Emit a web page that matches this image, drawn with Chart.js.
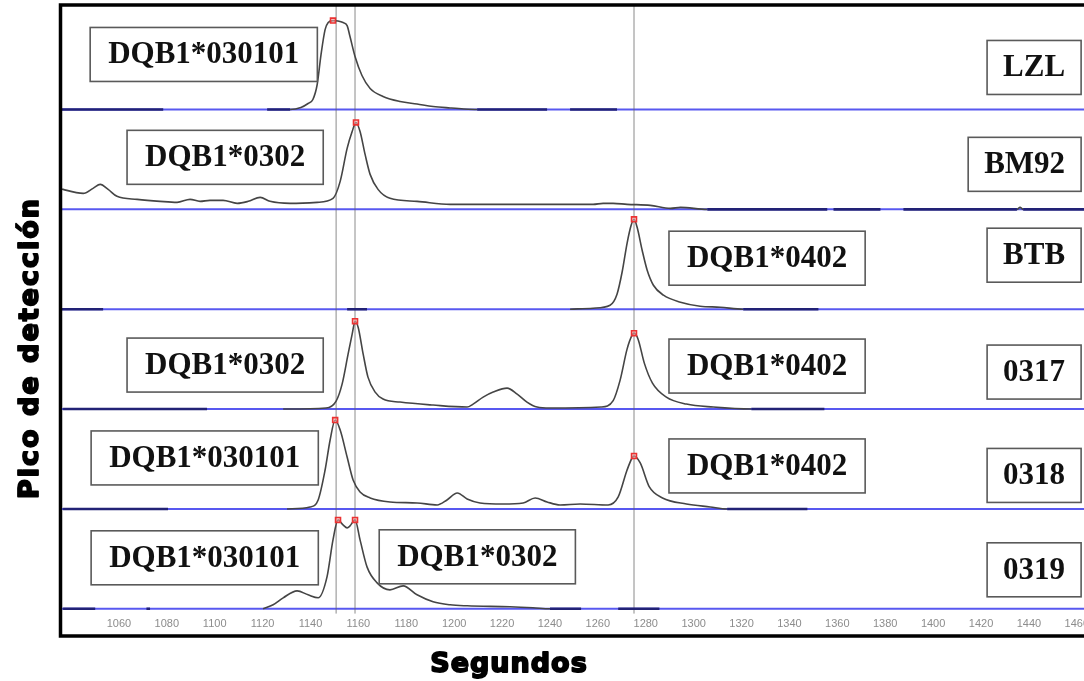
<!DOCTYPE html>
<html>
<head>
<meta charset="utf-8">
<title>Pico de detección</title>
<script src="https://cdn.jsdelivr.net/npm/chart.js@4.4.1/dist/chart.umd.min.js"></script>
<style>
  html, body { margin: 0; padding: 0; background: #fff; overflow: hidden; }
  #wrap { position: relative; width: 1084px; height: 681px; overflow: hidden; }
  #grafico { position: absolute; left: 0; top: 0; }
</style>
</head>
<body>
<div id="wrap"><canvas id="grafico" width="1110" height="681"></canvas></div>
<script>
// muestras, de arriba hacia abajo
const muestras = ['LZL', 'BM92', 'BTB', '0317', '0318', '0319'];
const segundosTicks = [1060, 1080, 1100, 1120, 1140, 1160, 1180, 1200, 1220, 1240, 1260,
  1280, 1300, 1320, 1340, 1360, 1380, 1400, 1420, 1440, 1460];
const lineasGuia = [1150.7, 1158.6, 1275.1];

// señal de cada muestra (% de la altura de la fila), null = sin trazo
const tLZL = [1035.4, 1078.5, 1100, 1121.9, 1131.5, 1136, 1139, 1141, 1142.8, 1144.4, 1146.1, 1147.4,
  1149.4, 1151.5, 1153.6, 1155.3, 1156.5, 1158.6, 1161.5, 1164.9, 1170.3, 1177.4, 1184.5, 1191.2,
  1198.3, 1204, 1209.6, 1238.8, 1243, 1248.4, 1268];
const sLZL = [0, 0, null, 0, 0, 2, 6, 10, 25, 55, 80, 87, 89, 88.5, 87, 84, 73, 53, 34, 21, 13, 8,
  5.5, 3, 1.5, 0.5, 0, 0, null, 0, 0];

const tBM92 = [1035.4, 1036.7, 1045.1, 1049.2, 1052.2, 1055.5, 1059.2, 1067.6, 1077.2, 1084.3, 1089.7,
  1093.9, 1098, 1103.5, 1109.4, 1114, 1119, 1123.1, 1131.5, 1142.8, 1149.4, 1152.4, 1155.3, 1157.4,
  1159, 1160.7, 1162.8, 1164.9, 1168.2, 1173.2, 1184.5, 1198.3, 1220, 1240, 1258, 1262.2, 1266.4,
  1272.2, 1281.9, 1290.3, 1294.5, 1305.7, 1355.8, 1357, 1358.4, 1378, 1382, 1387.6, 1435, 1436.3,
  1437.6, 1463];
const sBM92 = [21, 20, 16, 21, 25, 20, 13, 10, 8, 7, 10, 8, 9, 9, 6, 8, 12, 8, 6, 7, 11, 28, 61, 78,
  87, 78, 55, 35, 20, 11, 8, 5, 5, 5, 5, 6, 6, 5, 4, 1, 2, 0, 0, null, 0, 0, null, 0, 0, 2, 0, 0];

const tBTB = [1035.4, 1053.4, 1100, 1155.3, 1163.6, 1200, 1248.4, 1258, 1265.1, 1268, 1270.2, 1272.2,
  1273.9, 1275.1, 1276.4, 1278.5, 1280.6, 1283.2, 1287.4, 1294.5, 1302.7, 1311.1, 1320.7, 1352.1];
const sBTB = [0, 0, null, 0, 0, null, 0, 1, 4, 15, 38, 66, 84, 90, 82, 59, 39, 24, 14, 7, 3, 2, 0, 0];

const t0317 = [1036.7, 1096.8, 1110, 1128.6, 1146.5, 1150.7, 1153.2, 1155.7, 1157.4, 1158.6, 1159.9,
  1162.0, 1164.0, 1167.0, 1170.3, 1177.4, 1191.2, 1205.4, 1207.9, 1212.1, 1216.3, 1222.1, 1226.3,
  1230.4, 1234.6, 1240, 1261.3, 1266.4, 1269.3, 1272.2, 1274.3, 1275.1, 1276.8, 1279.4, 1282.8,
  1288.6, 1297, 1308.2, 1324.1, 1354.6];
const s0317 = [0, 0, null, 0, 1, 8, 25, 55, 75, 88, 82, 55, 32, 17, 10, 7, 4, 2, 5, 12, 17, 21, 15,
  7, 2, 1, 2, 8.5, 29, 60, 74, 76, 70, 46, 26, 12, 5, 2, 0, 0];

const t0318 = [1036.7, 1080.5, 1105, 1130.2, 1139.8, 1143.2, 1146.1, 1148.2, 1150.3, 1152.4, 1155.3,
  1157.8, 1160.7, 1164.9, 1173.2, 1184.5, 1192.9, 1197, 1201.3, 1205.4, 1210.8, 1220.4, 1228.8,
  1233.8, 1238.8, 1244.2, 1252.6, 1264.3, 1268.5, 1272.2, 1274.3, 1275.1, 1277.7, 1281.5, 1287,
  1297, 1306.9, 1314, 1347.5];
const s0318 = [0, 0, null, 0, 2, 9, 39, 69, 89, 79, 52, 29, 17, 11, 7, 6, 4, 9, 16, 10, 6, 5, 6, 11,
  7, 4, 5, 4, 12, 39, 51, 53, 46, 22, 11, 5, 2, 0, 0];

const t0319 = [1036.7, 1050.1, 1060, 1071.5, 1073, 1095, 1120.2, 1124.4, 1128.6, 1134.4, 1139, 1143.2,
  1146.9, 1149.4, 1151.5, 1153.6, 1155.3, 1156.5, 1158.6, 1160.7, 1163.6, 1167.8, 1173.2, 1178.7,
  1184.5, 1191.2, 1198.3, 1205.4, 1223.3, 1232.9, 1240, 1253, 1260, 1268.5, 1285.7];
const s0319 = [0, 0, null, 0, 0, null, 0, 4, 11, 18, 14, 11, 32, 69, 89, 84, 81, 83, 89, 69, 42, 26,
  19, 23, 14, 7, 4, 3, 2, 1, 0, 0, null, 0, 0];

// tiempos de los picos marcados en cada fila
const picosLZL = [1149.4];
const picosBM92 = [1159];
const picosBTB = [1275.1];
const picos0317 = [1158.6, 1275.1];
const picos0318 = [1150.3, 1275.1];
const picos0319 = [1151.5, 1158.6];

// alelos asignados: fila, texto, inicio del recuadro (s), altura sobre la línea base (px)
const alelos = [
  { fila: 0, texto: 'DQB1*030101', desde: 1048.0, alto: 55 },
  { fila: 1, texto: 'DQB1*0302', desde: 1063.4, alto: 52 },
  { fila: 2, texto: 'DQB1*0402', desde: 1289.7, alto: 51 },
  { fila: 3, texto: 'DQB1*0302', desde: 1063.4, alto: 44 },
  { fila: 3, texto: 'DQB1*0402', desde: 1289.7, alto: 43 },
  { fila: 4, texto: 'DQB1*030101', desde: 1048.4, alto: 51 },
  { fila: 4, texto: 'DQB1*0402', desde: 1289.7, alto: 43 },
  { fila: 5, texto: 'DQB1*030101', desde: 1048.4, alto: 51 },
  { fila: 5, texto: 'DQB1*0302', desde: 1168.7, alto: 52 }
];
const altoMuestra = [42, 45, 54, 37, 33.5, 39];

const tiempos = [tLZL, tBM92, tBTB, t0317, t0318, t0319];
const senales = [sLZL, sBM92, sBTB, s0317, s0318, s0319];
const picos = [picosLZL, picosBM92, picosBTB, picos0317, picos0318, picos0319];

const xMin = 1035.4;
const xMax = 1467.6;
const yMax = 6.09;
const AZUL = 'rgb(88, 88, 240)';
const AZUL_OSCURO = 'rgb(34, 34, 118)';
const GRIS = '#454545';

function baseDeFila(fila) {
  return (muestras.length - 1 - fila) + 0.05;
}

const datasets = [];

// líneas base azules
muestras.forEach((m, fila) => {
  const base = baseDeFila(fila);
  datasets.push({
    label: 'base ' + m,
    data: [{ x: xMin, y: base }, { x: xMax, y: base }],
    borderColor: AZUL,
    borderWidth: 2,
    pointRadius: 0,
    order: 4
  });
});

// líneas verticales de referencia
lineasGuia.forEach(t => {
  datasets.push({
    label: 'guia ' + t,
    data: [{ x: t, y: 0 }, { x: t, y: yMax }],
    borderColor: 'rgba(100, 100, 100, 0.75)',
    borderWidth: 1,
    pointRadius: 0,
    order: 3
  });
});

// trazos de cada muestra
muestras.forEach((m, fila) => {
  const base = baseDeFila(fila);
  const enBase = ctx => Math.abs(ctx.p0.parsed.y - base) < 1e-6 && Math.abs(ctx.p1.parsed.y - base) < 1e-6;
  datasets.push({
    label: m,
    data: tiempos[fila].map((t, i) => ({ x: t, y: senales[fila][i] === null ? null : base + senales[fila][i] / 100 })),
    borderColor: GRIS,
    borderWidth: 1.6,
    cubicInterpolationMode: 'monotone',
    pointRadius: 0,
    spanGaps: false,
    segment: {
      borderColor: ctx => enBase(ctx) ? AZUL_OSCURO : GRIS,
      borderWidth: ctx => enBase(ctx) ? 2.6 : 1.6
    },
    order: 2
  });
});

// marcas rojas en los picos
const puntosPico = [];
picos.forEach((lista, fila) => {
  lista.forEach(t => {
    const i = tiempos[fila].indexOf(t);
    puntosPico.push({ x: t, y: baseDeFila(fila) + senales[fila][i] / 100 });
  });
});
datasets.push({
  label: 'picos',
  data: puntosPico,
  showLine: false,
  pointStyle: 'rect',
  pointRadius: 3.5,
  pointBorderWidth: 1.6,
  pointBorderColor: 'rgb(235, 50, 50)',
  pointBackgroundColor: 'rgba(255, 170, 170, 0.55)',
  order: 0
});

function recuadro(ctx, texto, x, yCentro, pad, alinear) {
  ctx.font = 'bold 31px "Liberation Serif"';
  const w = ctx.measureText(texto).width + pad * 2;
  const h = 54;
  const left = alinear === 'derecha' ? x - w : x;
  ctx.fillStyle = '#fff';
  ctx.fillRect(left, yCentro - h / 2, w, h);
  ctx.strokeStyle = '#5a5a5a';
  ctx.lineWidth = 1.6;
  ctx.strokeRect(left, yCentro - h / 2, w, h);
  ctx.fillStyle = '#111';
  ctx.textAlign = 'center';
  ctx.textBaseline = 'middle';
  ctx.fillText(texto, left + w / 2, yCentro + 1);
}

const marcoYEtiquetas = {
  id: 'marcoYEtiquetas',
  afterDatasetsDraw(chart) {
    const ctx = chart.ctx;
    const xs = chart.scales.x;
    const ys = chart.scales.y;
    ctx.save();
    alelos.forEach(a => {
      const yc = ys.getPixelForValue(baseDeFila(a.fila)) - a.alto;
      recuadro(ctx, a.texto, xs.getPixelForValue(a.desde), yc, 18, 'izquierda');
    });
    muestras.forEach((m, fila) => {
      const yc = ys.getPixelForValue(baseDeFila(fila)) - altoMuestra[fila];
      recuadro(ctx, m, xs.getPixelForValue(1461.8), yc, 16, 'derecha');
    });
    ctx.restore();
  },
  afterDraw(chart) {
    const ctx = chart.ctx;
    const area = chart.chartArea;
    ctx.save();
    // marco negro
    ctx.strokeStyle = '#000';
    ctx.lineWidth = 3.5;
    ctx.beginPath();
    ctx.moveTo(chart.width, 5);
    ctx.lineTo(area.left + 0.5, 5);
    ctx.lineTo(area.left + 0.5, 636);
    ctx.lineTo(chart.width, 636);
    ctx.stroke();

    // títulos de los ejes
    ctx.fillStyle = '#000';
    ctx.strokeStyle = '#000';
    ctx.lineWidth = 1.8;
    ctx.lineJoin = 'round';
    ctx.font = 'bold 27px "DejaVu Sans"';
    ctx.textAlign = 'center';
    ctx.textBaseline = 'alphabetic';
    ctx.letterSpacing = '1px';
    ctx.fillText('Segundos', 509, 672);
    ctx.strokeText('Segundos', 509, 672);

    ctx.translate(38, 348);
    ctx.rotate(-Math.PI / 2);
    ctx.letterSpacing = '2px';
    ctx.fillText('Pico de detección', 0, 0);
    ctx.strokeText('Pico de detección', 0, 0);
    ctx.restore();
  }
};

new Chart(document.getElementById('grafico'), {
  type: 'line',
  data: { datasets },
  options: {
    responsive: false,
    devicePixelRatio: 1,
    animation: false,
    events: [],
    layout: { padding: { left: 60, top: 5, right: 15, bottom: 46 } },
    plugins: {
      legend: { display: false },
      tooltip: { enabled: false }
    },
    scales: {
      x: {
        type: 'linear',
        min: xMin,
        max: xMax,
        afterBuildTicks: scale => {
          scale.ticks = segundosTicks.map(v => ({ value: v }));
        },
        grid: { display: false, drawTicks: false },
        border: { display: false },
        ticks: {
          padding: 4,
          color: '#8c8c8c',
          font: { family: '"Liberation Sans"', size: 11 },
          maxRotation: 0,
          autoSkip: false,
          callback: v => String(v)
        }
      },
      y: {
        type: 'linear',
        display: false,
        min: 0,
        max: yMax
      }
    }
  },
  plugins: [marcoYEtiquetas]
});
</script>
</body>
</html>
